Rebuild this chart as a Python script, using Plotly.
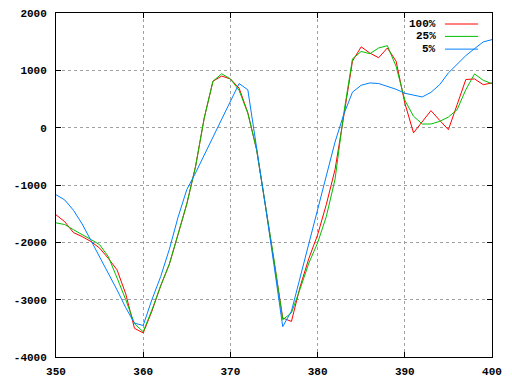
import plotly.graph_objects as go

x_vals = list(range(350, 401))

series_100 = [-1520, -1640, -1830, -1900, -1985, -2100, -2280, -2480, -2900, -3500,
              -3580, -3200, -2760, -2380, -1860, -1330, -680, 170, 810, 900,
              850, 690, 260, -380, -1340, -2300, -3320, -3380, -2770, -2280,
              -1870, -1340, -730, 200, 1160, 1410, 1300, 1220, 1390, 1160,
              430, -90, 100, 297, 128, -35, 400, 840, 850, 750,
              780]

series_25 = [-1660, -1690, -1780, -1860, -1950, -2040, -2250, -2620, -3000, -3420,
             -3560, -3180, -2760, -2380, -1860, -1330, -680, 170, 810, 940,
             850, 650, 250, -380, -1340, -2300, -3350, -3230, -2810, -2360,
             -2010, -1550, -900, 250, 1200, 1330, 1290, 1390, 1430, 1070,
             480, 200, 64, 64, 110, 186, 314, 663, 937, 826,
             768]

series_5 = [-1170, -1260, -1440, -1680, -1965, -2245, -2525, -2830, -3140, -3410,
            -3450, -3000, -2600, -2120, -1560, -1080, -790, -480, -170, 140,
            450, 770, 660, -330, -1350, -2400, -3470, -3200, -2620, -2000,
            -1430, -850, -250, 230, 620, 740, 780, 770, 720, 670,
            600, 565, 536, 616, 750, 955, 1112, 1257, 1379, 1496,
            1536]

names = ["100%", "25%", "5%"]
colors = ["#ff0000", "#00c000", "#0080ff"]
x_ticks = [350, 360, 370, 380, 390, 400]
y_ticks = [-4000, -3000, -2000, -1000, 0, 1000, 2000]

FONT = dict(family="Liberation Mono, DejaVu Sans Mono, monospace", size=11, color="black", weight="bold")

fig = go.Figure()
for name, ys, c in zip(names, [series_100, series_25, series_5], colors):
    fig.add_trace(go.Scatter(x=x_vals, y=ys, mode="lines", name=name,
                             line=dict(color=c, width=1), showlegend=False))

axis_common = dict(
    showline=True, linecolor="black", linewidth=1, mirror="ticks",
    ticks="inside", ticklen=5, tickcolor="black", tickwidth=1,
    showgrid=True, gridcolor="#a0a0a0", gridwidth=1, griddash="dot",
    zeroline=False, tickfont=FONT, automargin=False,
)

fig.update_xaxes(range=[350, 400], tickvals=x_ticks, ticktext=[str(v) for v in x_ticks],
                 ticklabelstandoff=4, **axis_common)
fig.update_yaxes(range=[-4000, 2000], tickvals=y_ticks, ticktext=[str(v) for v in y_ticks],
                 ticklabelstandoff=6, **axis_common)

# legend drawn as text + sample lines (top right, gnuplot style)
leg_y = [0.968, 0.932, 0.895]
for name, c, yy in zip(names, colors, leg_y):
    fig.add_annotation(xref="paper", yref="paper", x=0.8755, y=yy, text=name,
                       showarrow=False, xanchor="right", yanchor="middle", font=FONT)
    fig.add_shape(type="line", xref="paper", yref="paper", x0=0.892, x1=0.968,
                  y0=yy, y1=yy, line=dict(color=c, width=1))

fig.update_layout(
    width=512, height=384, autosize=False,
    margin=dict(l=56, r=20, t=13, b=27),
    plot_bgcolor="white", paper_bgcolor="white",
    font=FONT,
)

fig.write_html("out.html")
